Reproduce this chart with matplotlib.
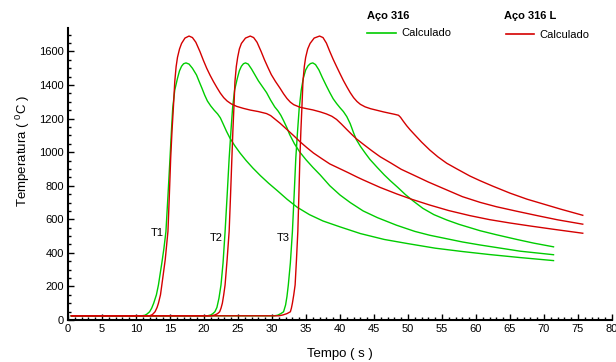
import matplotlib; matplotlib.use('Agg')
import matplotlib.pyplot as plt
from matplotlib.lines import Line2D
from matplotlib.ticker import MultipleLocator
plt.rcParams['font.family']=['Liberation Sans','DejaVu Sans']
plt.rcParams['mathtext.fontset']='custom'
plt.rcParams['mathtext.rm']='Liberation Sans'

# Aço 316 (verde) - termopares T1, T2, T3
g1_t=[0.5,10.8,11.3,11.6,12.0,12.3,12.6,13.0,13.3,13.8,14.1,14.4,14.7,15.0,15.2,15.4,15.7,16.1,16.4,16.7,17.0,17.35,
      17.8,18.3,18.9,19.3,19.7,20.1,20.5,21.0,21.5,22.0,22.4,22.8,23.3,23.8,24.5,25.3,26.2,27.2,28.3,29.5,30.8,32.2,33.7,35.5,37.5,40,43,46.5,50,54,58,62,66.5,71.4]
g1_T=[25,25,28,35,49,70,100,150,209,340,425,526,740,964,1120,1262,1370,1440,1485,1512,1527,1532,
      1525,1500,1460,1420,1381,1340,1305,1275,1250,1228,1205,1170,1125,1085,1040,995,950,905,860,815,770,720,672,628,590,555,515,480,455,428,408,390,372,354]
g2_t=[0.5,20.5,21.0,21.3,21.6,21.9,22.2,22.5,22.8,23.1,23.4,23.7,23.95,24.2,24.5,24.9,25.2,25.5,25.8,26.1,
      26.5,27.0,27.5,28.0,28.6,29.2,29.8,30.4,30.9,31.3,31.7,32.2,32.6,33.3,34.1,35.0,36.0,37.1,38.5,40,41.5,43.4,45.5,48.3,51,53.2,58,60.6,63,66.5,71.4]
g2_T=[25,25,30,38,49,75,130,209,340,526,740,964,1120,1262,1370,1440,1485,1512,1527,1532,
      1525,1495,1460,1425,1390,1355,1310,1270,1245,1220,1188,1145,1105,1050,1000,955,910,864,800,745,700,650,610,565,528,505,465,447,432,410,389]
g3_t=[0.5,30.3,30.8,31.3,31.7,32.0,32.2,32.4,32.7,33.0,33.25,33.5,33.75,34.0,34.3,34.6,34.95,35.3,35.65,36.0,
      36.4,36.9,37.4,38.0,38.5,39.0,39.5,40.0,40.5,41.0,41.5,42.0,42.4,43.0,43.7,44.4,45.5,46.5,47.4,48.5,49.6,50.8,52.2,53.8,55.7,57.5,60.6,63,66,68.5,71.4]
g3_T=[25,25,28,38,49,90,140,209,340,526,740,964,1120,1262,1370,1440,1490,1515,1528,1532,
      1522,1490,1445,1395,1355,1318,1290,1265,1242,1212,1170,1115,1075,1035,995,957,908,865,830,790,748,708,665,628,596,570,532,508,480,458,436]

# Aço 316 L (vermelho)
r1_t=[0.5,12.0,12.4,12.8,13.1,13.3,13.6,13.8,14.3,14.7,14.9,15.1,15.3,15.5,15.7,15.9,16.1,16.4,16.7,17.2,17.8,
      18.3,18.8,19.4,19.9,20.4,20.9,21.4,21.9,22.4,22.9,23.4,24.0,24.8,25.8,26.8,28.0,29.2,29.8,30.5,31.2,32.2,33.2,34.1,35.1,36.1,37.3,38.5,39.8,41.2,42.5,43.4,45.9,48.3,50.5,53.2,56,59.1,62,65,68,71.5,75.7]
r1_T=[25,25,32,49,75,100,150,209,360,529,740,964,1130,1268,1420,1510,1565,1615,1648,1680,1692,
      1683,1655,1600,1548,1500,1458,1420,1385,1352,1325,1305,1288,1273,1261,1251,1242,1230,1218,1195,1172,1135,1098,1063,1028,995,962,930,905,878,852,835,790,752,720,685,652,622,598,578,560,540,517]
r2_t=[0.5,21.0,21.6,22.0,22.3,22.5,22.7,22.9,23.1,23.4,23.7,23.9,24.1,24.25,24.4,24.55,24.75,24.95,25.2,25.5,26.1,26.8,
      27.3,27.8,28.4,28.9,29.4,29.9,30.5,31.2,31.7,32.2,32.7,33.2,34.1,35.0,36.0,37.1,38.0,38.8,39.5,40.2,41.0,41.8,42.4,43.5,44.7,45.9,47.5,49.0,50.8,53.0,55.7,58,60.6,63,66,69,72,75.7]
r2_T=[25,25,30,38,49,70,100,150,209,360,529,740,964,1130,1268,1420,1510,1565,1615,1648,1680,1692,
      1683,1655,1600,1550,1505,1462,1422,1380,1348,1320,1298,1283,1268,1260,1252,1240,1228,1214,1195,1168,1135,1103,1080,1045,1008,973,935,898,864,822,775,735,701,675,648,622,597,571]
r3_t=[0.5,31.0,31.6,32.2,32.7,32.85,33.0,33.2,33.4,33.6,33.8,33.95,34.1,34.25,34.4,34.55,34.75,34.95,35.25,35.6,36.2,37.0,
      37.5,38.0,38.5,39.0,39.5,40.0,40.5,41.0,41.5,42.0,42.5,43.0,43.7,44.5,45.4,46.4,47.3,48.0,48.6,48.9,49.3,49.8,50.3,50.8,52.0,53.2,54.4,55.7,57.2,59.1,60.6,62.5,65,67.5,70,72.5,75.7]
r3_T=[25,25,30,38,49,70,100,150,209,360,529,740,964,1130,1268,1420,1510,1565,1615,1648,1680,1692,
      1683,1650,1600,1553,1510,1468,1427,1390,1355,1325,1302,1285,1270,1259,1250,1240,1232,1226,1220,1208,1185,1158,1134,1112,1060,1013,972,934,900,858,830,797,756,720,690,660,624]

labels=['T1','T2','T3']
lab_t=[13.1,21.8,31.7]
lab_T=[517,487,487]

VERDE='#00cc00'; VERM='#d40000'
W,H=616,362
f=plt.figure(figsize=(W/100,H/100),dpi=100)
a=f.add_axes([68/W,1-320/H,544/W,292/H])
for t,T in [(g1_t,g1_T),(g2_t,g2_T),(g3_t,g3_T)]:
    a.plot(t,T,color=VERDE,lw=1.0)
for t,T in [(r1_t,r1_T),(r2_t,r2_T),(r3_t,r3_T)]:
    a.plot(t,T,color=VERM,lw=1.0)
for s,x,y in zip(labels,lab_t,lab_T):
    a.text(x,y,s,ha='center',va='center',fontsize=8)

a.set_xlim(0,80); a.set_ylim(0,1740)
a.xaxis.set_major_locator(MultipleLocator(5)); a.xaxis.set_minor_locator(MultipleLocator(1))
a.yaxis.set_major_locator(MultipleLocator(200)); a.yaxis.set_minor_locator(MultipleLocator(50))
a.tick_params(which='both',direction='in',labelsize=8,width=1.0,pad=3)
a.tick_params(which='major',length=4.5)
a.tick_params(which='minor',length=2.5)
for s in ['top','right']: a.spines[s].set_visible(False)
for s in ['left','bottom']: a.spines[s].set_linewidth(1.5)
a.set_xlabel('Tempo ( s )',fontsize=9.5)
a.set_ylabel('Temperatura ( $^{\\mathrm{0}}$C )',fontsize=9.5)
a.xaxis.set_label_coords(0.5,-0.095)
a.yaxis.set_label_coords(-0.066,0.58)

# legenda
def fx(x): return x/W
def fy(y): return 1-y/H
f.text(fx(367),fy(16),'Aço 316',fontsize=8,fontweight='bold',va='center')
f.add_artist(Line2D([fx(367),fx(396)],[fy(32.5),fy(32.5)],color=VERDE,lw=1.2))
f.text(fx(401),fy(33),'Calculado',fontsize=8,va='center')
f.text(fx(504),fy(16),'Aço 316 L',fontsize=8,fontweight='bold',va='center')
f.add_artist(Line2D([fx(506),fx(534)],[fy(34),fy(34)],color=VERM,lw=1.2))
f.text(fx(539),fy(35),'Calculado',fontsize=8,va='center')

plt.savefig('out.png',dpi=100,facecolor='w')
